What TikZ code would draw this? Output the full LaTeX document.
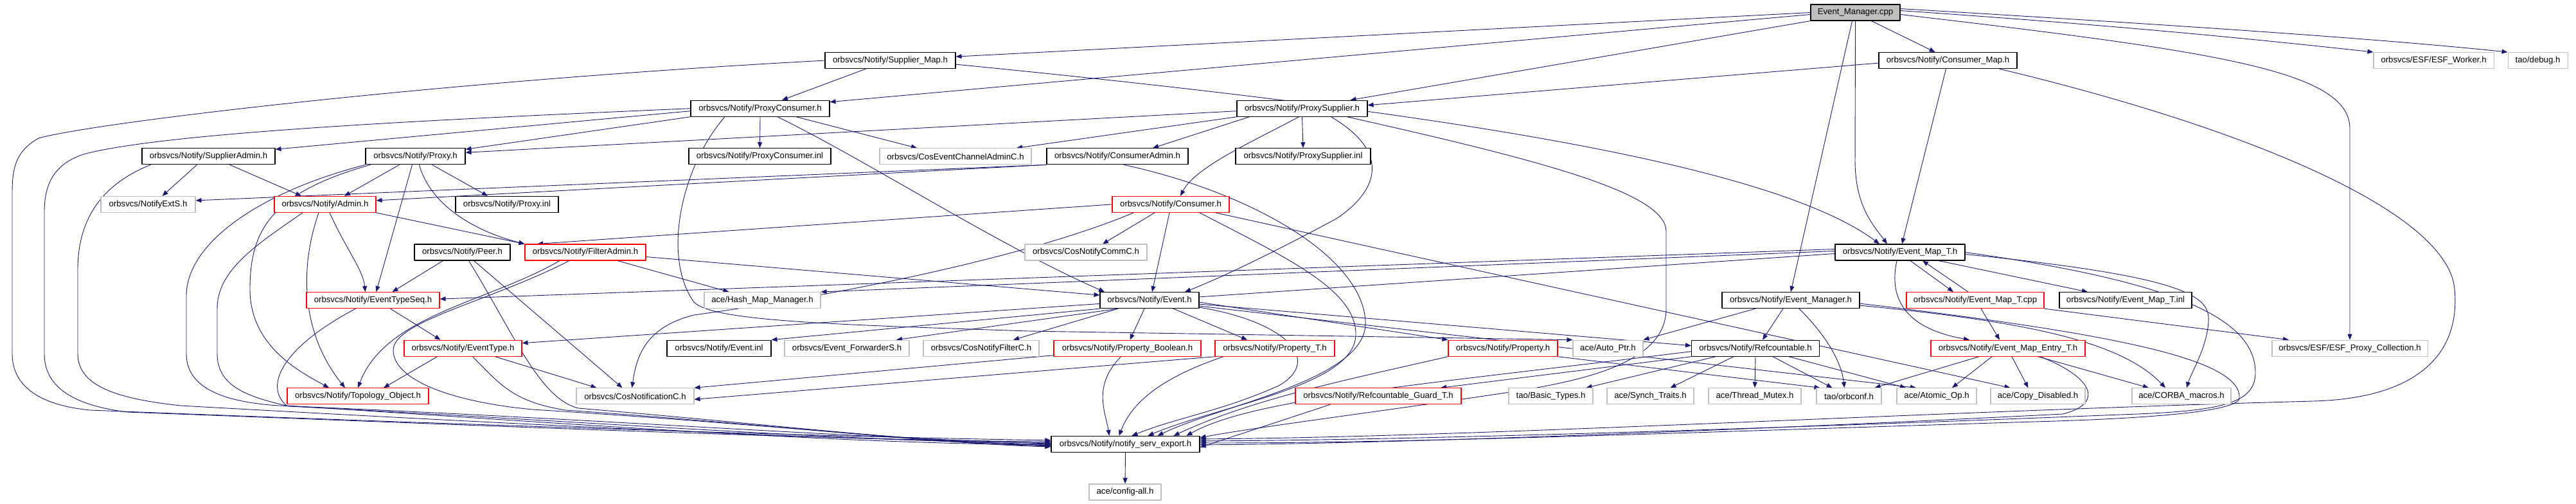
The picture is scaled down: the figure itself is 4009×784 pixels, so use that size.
\documentclass[tikz,border=0pt]{standalone}
\usepackage{fontspec}
\newfontfamily\dotfont{Liberation Sans}
\usetikzlibrary{arrows.meta,backgrounds}
\definecolor{edgeblue}{HTML}{191970}
\definecolor{boxgray}{HTML}{BFBFBF}
\begin{document}
\begin{tikzpicture}[line cap=round,line join=round,x=1pt,y=-1pt,
  >={Triangle[length=9pt,width=7pt]},
  incl/.style={draw=black,fill=white,line width=1.1pt,minimum width=#1pt,minimum height=25pt,inner sep=0pt,font=\dotfont\fontsize{13.2pt}{15pt}\selectfont},
  inclred/.style={incl=#1,draw=red},
  inclgray/.style={incl=#1,draw=boxgray},
  inclroot/.style={incl=#1,fill=boxgray},
  dep/.style={->,draw=edgeblue,line width=0.9pt}]
\useasboundingbox (0,0) rectangle (4009,784);
\node[inclroot=139] (emcpp) at (2887.5,19.5) {Event\_Manager.cpp};
\node[incl=203] (supmap) at (1385.5,94.1) {orbsvcs/Notify/Supplier\_Map.h};
\node[incl=215] (conmap) at (3031.5,94.1) {orbsvcs/Notify/Consumer\_Map.h};
\node[inclgray=187] (esfw) at (3787.5,94.1) {orbsvcs/ESF/ESF\_Worker.h};
\node[inclgray=93] (taodebug) at (3949.5,94.1) {tao/debug.h};
\node[incl=216] (pcons) at (1183,168.7) {orbsvcs/Notify/ProxyConsumer.h};
\node[incl=203] (psup) at (2026.5,168.7) {orbsvcs/Notify/ProxySupplier.h};
\node[incl=207] (suppadm) at (324.5,243.3) {orbsvcs/Notify/SupplierAdmin.h};
\node[incl=155] (proxy) at (646.5,243.3) {orbsvcs/Notify/Proxy.h};
\node[incl=221] (pconsinl) at (1182.5,243.3) {orbsvcs/Notify/ProxyConsumer.inl};
\node[inclgray=236] (coseca) at (1487,243.3) {orbsvcs/CosEventChannelAdminC.h};
\node[incl=220] (consadm) at (1739,243.3) {orbsvcs/Notify/ConsumerAdmin.h};
\node[incl=210] (psupinl) at (2028,243.3) {orbsvcs/Notify/ProxySupplier.inl};
\node[inclgray=147] (extS) at (230.5,317.9) {orbsvcs/NotifyExtS.h};
\node[inclred=158] (admin) at (506,317.9) {orbsvcs/Notify/Admin.h};
\node[incl=160] (proxyinl) at (789,317.9) {orbsvcs/Notify/Proxy.inl};
\node[inclred=182] (consumer) at (1822,317.9) {orbsvcs/Notify/Consumer.h};
\node[incl=149] (peer) at (719.5,392.5) {orbsvcs/Notify/Peer.h};
\node[inclred=188] (filtadm) at (911,392.5) {orbsvcs/Notify/FilterAdmin.h};
\node[inclgray=190] (comm) at (1690,392.5) {orbsvcs/CosNotifyCommC.h};
\node[incl=202] (emapT) at (2957,392.5) {orbsvcs/Notify/Event\_Map\_T.h};
\node[inclred=207] (etseq) at (580.5,467.1) {orbsvcs/Notify/EventTypeSeq.h};
\node[inclgray=181] (hash) at (1186.5,467.1) {ace/Hash\_Map\_Manager.h};
\node[incl=154] (event) at (1789,467.1) {orbsvcs/Notify/Event.h};
\node[incl=214] (emgrh) at (2787,467.1) {orbsvcs/Notify/Event\_Manager.h};
\node[inclred=214] (emapTcpp) at (3074,467.1) {orbsvcs/Notify/Event\_Map\_T.cpp};
\node[incl=206] (emapTinl) at (3308,467.1) {orbsvcs/Notify/Event\_Map\_T.inl};
\node[inclred=183] (etype) at (720.5,541.7) {orbsvcs/Notify/EventType.h};
\node[incl=162] (eventinl) at (1119,541.7) {orbsvcs/Notify/Event.inl};
\node[inclgray=194] (fwdS) at (1318,541.7) {orbsvcs/Event\_ForwarderS.h};
\node[inclgray=180] (filtC) at (1527,541.7) {orbsvcs/CosNotifyFilterC.h};
\node[inclred=229] (propB) at (1754.5,541.7) {orbsvcs/Notify/Property\_Boolean.h};
\node[inclred=186] (propT) at (1984,541.7) {orbsvcs/Notify/Property\_T.h};
\node[inclred=170] (prop) at (2339,541.7) {orbsvcs/Notify/Property.h};
\node[inclgray=109] (autoptr) at (2502.5,541.7) {ace/Auto\_Ptr.h};
\node[incl=199] (refc) at (2732,541.7) {orbsvcs/Notify/Refcountable.h};
\node[inclred=240] (emapE) at (3125,541.7) {orbsvcs/Notify/Event\_Map\_Entry\_T.h};
\node[inclgray=242] (esfpc) at (3657,541.7) {orbsvcs/ESF/ESF\_Proxy\_Collection.h};
\node[inclred=220] (topo) at (557,616.3) {orbsvcs/Notify/Topology\_Object.h};
\node[inclgray=183] (cosnot) at (988.5,616.3) {orbsvcs/CosNotificationC.h};
\node[inclred=258] (rguard) at (2145,616.3) {orbsvcs/Notify/Refcountable\_Guard\_T.h};
\node[inclgray=131] (basict) at (2413.5,616.3) {tao/Basic\_Types.h};
\node[inclgray=135] (synch) at (2568.5,616.3) {ace/Synch\_Traits.h};
\node[inclgray=144] (mutex) at (2731,616.3) {ace/Thread\_Mutex.h};
\node[inclgray=101] (orbconf) at (2877.5,616.3) {tao/orbconf.h};
\node[inclgray=124] (atomic) at (3014,616.3) {ace/Atomic\_Op.h};
\node[inclgray=147] (copyd) at (3171.5,616.3) {ace/Copy\_Disabled.h};
\node[inclgray=154] (corba) at (3395,616.3) {ace/CORBA\_macros.h};
\node[incl=231] (nse) at (1751.5,690.9) {orbsvcs/Notify/notify\_serv\_export.h};
\node[inclgray=112] (config) at (1751,765.5) {ace/config-all.h};
\begin{pgfonlayer}{background}
\draw[dep] (emcpp.west) -- ([yshift=6pt]supmap.east);
\draw[dep] ([yshift=-3pt]emcpp.west) -- ([yshift=-3pt]pcons.north east);
\draw[dep] (emcpp.south west) -- ([xshift=75pt]psup.north);
\draw[dep] ([xshift=25pt]emcpp.south) -- ([xshift=-20pt]conmap.north);
\draw[dep] ([yshift=3pt]emcpp.east) .. controls (3300,40) and (3500,60) .. (esfw.north west);
\draw[dep] ([yshift=6pt]emcpp.east) .. controls (3400,40) and (3700,60) .. (taodebug.north west);
\draw[dep] ([yshift=-3pt]emcpp.east) .. controls (3450,80) and (3657,110) .. (3657,200) -- (esfpc.north);
\draw[dep] (emcpp.south) -- (2887,250) .. controls (2887,320) and (2915,350) .. ([xshift=-20pt]emapT.north);
\draw[dep] ([xshift=-5pt]emcpp.south) -- (emgrh.north);
\draw[dep] ([xshift=-38pt]supmap.south) -- ([xshift=34pt]pcons.north);
\draw[dep] ([yshift=-6pt]supmap.east) .. controls (2200,170) and (2750,250) .. ([xshift=-32pt]emapT.north);
\draw[dep] (supmap.west) .. controls (700,125) and (150,190) .. (60,215) .. controls (25,235) and (19,260) .. (19,300) -- (19,550) .. controls (19,600) and (60,630) .. (140,638) .. controls (700,660) and (1300,680) .. ([yshift=6pt]nse.west);
\draw[dep] ([yshift=-4pt]conmap.west) -- ([yshift=5pt]psup.east);
\draw[dep] ([xshift=-3pt]conmap.south) -- ([xshift=3pt]emapT.north);
\draw[dep] ([xshift=80pt]conmap.south) .. controls (3500,200) and (3810,330) .. (3820,450) .. controls (3830,560) and (3750,620) .. (3600,624) .. controls (3000,640) and (2300,680) .. ([yshift=8pt]nse.east);
\draw[dep] ([yshift=-4pt]pcons.west) -- ([yshift=11pt]suppadm.east);
\draw[dep] (pcons.south west) -- ([yshift=11pt]proxy.east);
\draw[dep] (pcons.south) -- (pconsinl.north);
\draw[dep] ([xshift=56pt]pcons.south) -- ([xshift=-60pt]coseca.north);
\draw[dep] ([xshift=27pt]pcons.south) .. controls (1350,250) and (1550,380) .. ([xshift=-70pt]event.north);
\draw[dep] ([xshift=-55pt]pcons.south) .. controls (1060,260) and (1030,400) .. (1080,470) .. controls (1110,500) and (1300,505) .. (1600,515) -- ([yshift=13pt]autoptr.west);
\draw[dep] (pcons.west) .. controls (700,185) and (260,205) .. (130,240) .. controls (85,255) and (69,285) .. (69,330) -- (69,550) .. controls (69,600) and (110,630) .. (198,641) .. controls (700,660) and (1300,685) .. ([yshift=4pt]nse.west);
\draw[dep] ([yshift=-4pt]psup.west) -- ([yshift=6pt]proxy.east);
\draw[dep] (psup.south west) -- ([xshift=95pt]coseca.north);
\draw[dep] ([xshift=-82pt]psup.south) -- ([xshift=55pt]consadm.north);
\draw[dep] ([xshift=-5pt]psup.south) .. controls (1950,220) and (1860,260) .. ([xshift=15pt]consumer.north);
\draw[dep] (psup.south) -- (psupinl.north);
\draw[dep] ([xshift=45pt]psup.south) .. controls (2170,240) and (2140,300) .. (2080,340) .. controls (1950,410) and (1880,440) .. ([xshift=55pt]event.north);
\draw[dep] ([xshift=70pt]psup.south) .. controls (2400,250) and (2593,300) .. (2593,360) -- (2593,480) .. controls (2593,560) and (2480,590) .. (2350,610) .. controls (2150,640) and (1950,665) .. ([yshift=10pt]nse.east);
\draw[dep] ([xshift=-18pt]suppadm.south) -- ([xshift=22pt]extS.north);
\draw[dep] ([xshift=33pt]suppadm.south) -- ([xshift=-37pt]admin.north);
\draw[dep] ([xshift=-90pt]suppadm.south) .. controls (150,290) and (121,350) .. (121,420) -- (121,550) .. controls (121,600) and (180,620) .. (281,631) .. controls (800,660) and (1300,685) .. ([yshift=2pt]nse.west);
\draw[dep] (consadm.south west) -- ([yshift=6pt]extS.east);
\draw[dep] (consadm.south west) -- ([yshift=6pt]admin.east);
\draw[dep] ([xshift=10pt]consadm.south) .. controls (1950,300) and (2120,400) .. (2125,500) .. controls (2130,590) and (1900,630) .. ([xshift=50pt]nse.north);
\draw[dep] ([xshift=-25pt]proxy.south) -- ([xshift=30pt]admin.north);
\draw[dep] ([xshift=26pt]proxy.south) -- ([xshift=-30pt]proxyinl.north);
\draw[dep] ([xshift=6pt]proxy.south) .. controls (670,320) and (740,360) .. (filtadm.north west);
\draw[dep] ([xshift=-5pt]proxy.south) -- ([xshift=5pt]etseq.north);
\draw[dep] ([xshift=-70pt]proxy.south) .. controls (420,300) and (389,360) .. (389,450) .. controls (389,540) and (470,580) .. ([xshift=-45pt]topo.north);
\draw[dep] (proxy.south west) .. controls (400,300) and (290,380) .. (290,460) -- (290,550) .. controls (290,600) and (340,625) .. (434,631) .. controls (900,650) and (1300,680) .. ([yshift=1pt]nse.west);
\draw[dep] (admin.south east) -- (filtadm.north west);
\draw[dep] ([xshift=7pt]admin.south) .. controls (540,390) and (565,420) .. ([xshift=-12pt]etseq.north);
\draw[dep] ([xshift=-10pt]admin.south) .. controls (465,420) and (470,520) .. ([xshift=-20pt]topo.north);
\draw[dep] ([xshift=-35pt]admin.south) .. controls (400,380) and (338,420) .. (338,480) -- (338,550) .. controls (338,600) and (383,617) .. (450,632) .. controls (900,655) and (1300,685) .. (nse.west);
\draw[dep] (consumer.west) -- ([xshift=-75pt]filtadm.north);
\draw[dep] ([xshift=-25pt]consumer.south) -- ([xshift=26pt]comm.north);
\draw[dep] ([xshift=-2pt]consumer.south) -- ([xshift=4pt]event.north);
\draw[dep] ([xshift=-58pt]consumer.south) .. controls (1600,400) and (1300,460) .. (1080,490) .. controls (1000,510) and (990,560) .. ([xshift=-5pt]cosnot.north);
\draw[dep] ([xshift=70pt]consumer.south) -- ([xshift=-43pt]copyd.north);
\draw[dep] ([xshift=45pt]consumer.south) .. controls (2000,400) and (2110,450) .. (2110,520) .. controls (2110,600) and (1900,630) .. ([xshift=35pt]nse.north);
\draw[dep] ([xshift=-30pt]peer.south) -- ([xshift=30pt]etseq.north);
\draw[dep] ([xshift=18pt]peer.south) -- ([xshift=-20pt]cosnot.north);
\draw[dep] ([xshift=10pt]peer.south) .. controls (800,520) and (840,620) .. (900,635) .. controls (1200,660) and (1450,690) .. ([yshift=-3pt]nse.west);
\draw[dep] ([xshift=50pt]filtadm.south) -- ([xshift=-52pt]hash.north);
\draw[dep] ([yshift=-7pt]filtadm.east) -- ([yshift=8pt]event.west);
\draw[dep] ([xshift=-40pt]filtadm.south) .. controls (760,470) and (600,490) .. (topo.north);
\draw[dep] ([xshift=-25pt]filtadm.south) .. controls (760,470) and (612,500) .. (612,545) .. controls (612,590) and (700,625) .. (829,637) .. controls (1200,660) and (1400,685) .. ([yshift=-2pt]nse.west);
\draw[dep] ([yshift=5pt]emapT.west) -- ([yshift=2pt]etseq.east);
\draw[dep] ([yshift=2pt]emapT.west) -- (hash.north east);
\draw[dep] ([yshift=-2pt]emapT.west) -- ([yshift=8pt]etype.east);
\draw[dep] ([xshift=16pt]emapT.south) -- ([xshift=-34pt]emapTcpp.north);
\draw[dep] ([xshift=60pt]emapT.south) -- ([xshift=-59pt]emapTinl.north);
\draw[dep] ([xshift=-5pt]emapT.south) .. controls (2940,460) and (2960,510) .. ([xshift=-60pt]emapE.north);
\draw[dep] ([yshift=-3pt]emapT.east) .. controls (3400,430) and (3440,460) .. (3437,500) .. controls (3435,540) and (3410,580) .. ([xshift=8pt]corba.north);
\draw[dep] (emapT.east) .. controls (3400,440) and (3510,500) .. (3510,580) .. controls (3510,630) and (3450,640) .. (3300,645) .. controls (2800,665) and (2200,685) .. ([yshift=5pt]nse.east);
\draw[dep] ([xshift=-11pt]emapTcpp.north) -- ([xshift=35pt]emapT.south);
\draw[dep] ([xshift=9pt]emapTcpp.south) -- ([xshift=-13pt]emapE.north);
\draw[dep] (emapTcpp.south east) -- ([xshift=-95pt]esfpc.north);
\draw[dep] ([xshift=27pt]etseq.south) -- ([xshift=-35pt]etype.north);
\draw[dep] ([xshift=-27pt]etseq.south) .. controls (440,540) and (410,600) .. (446,631) .. controls (900,660) and (1300,690) .. ([yshift=-1pt]nse.west);
\draw[dep] (event.south west) -- (eventinl.north east);
\draw[dep] ([xshift=-49pt]event.south) -- ([xshift=77pt]fwdS.north);
\draw[dep] ([xshift=-49pt]event.south) -- ([xshift=50pt]filtC.north);
\draw[dep] ([xshift=-8pt]event.south) -- ([xshift=4pt]propB.north);
\draw[dep] ([xshift=37pt]event.south) -- ([xshift=-43pt]propT.north);
\draw[dep] ([yshift=-3pt]event.east) -- (prop.north west);
\draw[dep] ([yshift=-6pt]event.east) -- ([yshift=4pt]refc.west);
\draw[dep] ([yshift=-9pt]event.east) -- ([xshift=-32pt]atomic.north);
\draw[dep] ([yshift=-11pt]event.east) .. controls (2000,500) and (2060,560) .. (1990,600) .. controls (1900,640) and (1830,650) .. ([xshift=10pt]nse.north);
\draw[dep] ([xshift=-55pt]emgrh.south) -- (autoptr.north east);
\draw[dep] ([xshift=-12pt]emgrh.south) -- ([xshift=11pt]refc.north);
\draw[dep] ([xshift=13pt]emgrh.south) .. controls (2840,520) and (2865,560) .. ([xshift=-7pt]orbconf.north);
\draw[dep] ([yshift=-8pt]emgrh.east) .. controls (3150,500) and (3300,530) .. ([xshift=-25pt]corba.north);
\draw[dep] ([yshift=-5pt]emgrh.east) .. controls (3300,520) and (3490,560) .. (3485,620) .. controls (3480,640) and (3350,650) .. (3200,655) .. controls (2700,670) and (2200,690) .. ([yshift=2pt]nse.east);
\draw[dep] ([xshift=-40pt]etype.south) -- ([xshift=40pt]topo.north);
\draw[dep] ([xshift=50pt]etype.south) -- ([xshift=-60pt]cosnot.north);
\draw[dep] ([xshift=15pt]etype.south) .. controls (780,600) and (800,625) .. (880,638) .. controls (1200,660) and (1450,690) .. ([yshift=-4pt]nse.west);
\draw[dep] ([yshift=2pt]propB.south west) -- (cosnot.north east);
\draw[dep] ([xshift=-10pt]propB.south) .. controls (1700,600) and (1720,640) .. ([xshift=-25pt]nse.north);
\draw[dep] (propT.south west) -- ([yshift=-5pt]cosnot.east);
\draw[dep] ([xshift=-80pt]propT.south) .. controls (1800,590) and (1760,630) .. ([xshift=-10pt]nse.north);
\draw[dep] (prop.south east) -- ([xshift=-45pt]orbconf.north);
\draw[dep] (prop.south west) .. controls (2100,590) and (1950,620) .. ([xshift=75pt]nse.north);
\draw[dep] (refc.south west) -- ([xshift=97pt]rguard.north);
\draw[dep] ([xshift=-62pt]refc.south) -- ([xshift=55pt]basict.north);
\draw[dep] ([xshift=-34pt]refc.south) -- ([xshift=31pt]synch.north);
\draw[dep] (refc.south) -- (mutex.north);
\draw[dep] ([xshift=27pt]refc.south) -- ([xshift=-26pt]orbconf.north);
\draw[dep] ([xshift=52pt]refc.south) -- ([xshift=-48pt]atomic.north);
\draw[dep] ([yshift=-5pt]refc.west) .. controls (2200,600) and (1950,620) .. ([xshift=95pt]nse.north);
\draw[dep] ([xshift=-45pt]emapE.south) -- ([xshift=40pt]orbconf.north);
\draw[dep] ([xshift=-25pt]emapE.south) -- ([xshift=24pt]atomic.north);
\draw[dep] ([xshift=6pt]emapE.south) -- ([xshift=-15pt]copyd.north);
\draw[dep] ([xshift=47pt]emapE.south) -- ([xshift=-51pt]corba.north);
\draw[dep] ([xshift=50pt]emapE.south) .. controls (3265,590) and (3270,630) .. (3210,644) .. controls (2800,665) and (2200,690) .. ([yshift=-1pt]nse.east);
\draw[dep] ([xshift=-75pt]rguard.south) -- ([yshift=-5pt]nse.east);
\draw[dep] (nse.south) -- (config.north);
\end{pgfonlayer}
\end{tikzpicture}
\end{document}
